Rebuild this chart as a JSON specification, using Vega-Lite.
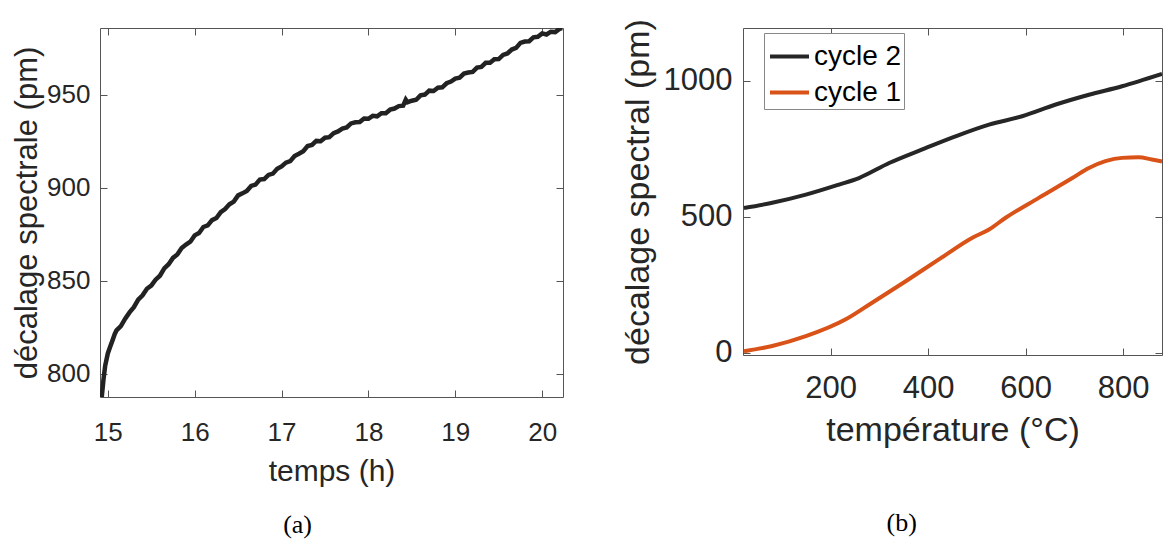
{
  "$schema": "https://vega.github.io/schema/vega-lite/v6.json",
  "padding": {"left": 11, "top": 18, "right": 0, "bottom": 0},
  "background": "white",
  "config": {
    "view": {"stroke": "#555555", "strokeWidth": 1},
    "font": "Liberation Sans",
    "axis": {"grid": false, "domain": false, "tickColor": "#555555", "labelColor": "#262626", "titleColor": "#262626", "labelFont": "Liberation Sans", "titleFont": "Liberation Sans", "titleFontWeight": "normal", "labelFlush": false, "tickSize": -7}
  },
  "spacing": 56,
  "resolve": {"legend": {"color": "independent"}},
  "datasets": {
    "temps": [
      {"t": 14.93, "v": 787.5}, {"t": 14.95, "v": 797}, {"t": 14.97, "v": 804.5}, {"t": 15.0, "v": 811}, {"t": 15.03, "v": 815}, {"t": 15.05, "v": 817.5}, {"t": 15.08, "v": 821.5},
      {"t": 15.1, "v": 823.4}, {"t": 15.15, "v": 825.7}, {"t": 15.2, "v": 829.7}, {"t": 15.25, "v": 833.1}, {"t": 15.3, "v": 835.9}, {"t": 15.35, "v": 840}, {"t": 15.4, "v": 842.3}, {"t": 15.45, "v": 845.8}, {"t": 15.5, "v": 847.5}, {"t": 15.55, "v": 850.7},
      {"t": 15.6, "v": 852.8}, {"t": 15.65, "v": 856.8}, {"t": 15.7, "v": 859}, {"t": 15.75, "v": 862.4}, {"t": 15.8, "v": 864.2}, {"t": 15.85, "v": 867.7}, {"t": 15.9, "v": 869.6}, {"t": 15.95, "v": 871.1}, {"t": 16.0, "v": 874.5},
      {"t": 16.05, "v": 875.8}, {"t": 16.1, "v": 879}, {"t": 16.15, "v": 879.9}, {"t": 16.2, "v": 882.7}, {"t": 16.25, "v": 883.8}, {"t": 16.3, "v": 887}, {"t": 16.35, "v": 888.7}, {"t": 16.4, "v": 891.2}, {"t": 16.45, "v": 892.7}, {"t": 16.5, "v": 896},
      {"t": 16.55, "v": 897.1}, {"t": 16.6, "v": 898.4}, {"t": 16.65, "v": 901.1}, {"t": 16.7, "v": 901.8}, {"t": 16.75, "v": 904.5}, {"t": 16.8, "v": 904.8}, {"t": 16.85, "v": 907}, {"t": 16.9, "v": 907.7}, {"t": 16.95, "v": 910.3}, {"t": 17.0, "v": 911.6},
      {"t": 17.05, "v": 913.6}, {"t": 17.1, "v": 914.4}, {"t": 17.15, "v": 917.2}, {"t": 17.2, "v": 918.4}, {"t": 17.25, "v": 919.7}, {"t": 17.3, "v": 922.5}, {"t": 17.35, "v": 923.1}, {"t": 17.4, "v": 925.3}, {"t": 17.45, "v": 925.1}, {"t": 17.5, "v": 927},
      {"t": 17.55, "v": 927.3}, {"t": 17.6, "v": 929.5}, {"t": 17.65, "v": 930.4}, {"t": 17.7, "v": 931.9}, {"t": 17.75, "v": 932.5}, {"t": 17.8, "v": 934.7}, {"t": 17.85, "v": 935.3}, {"t": 17.9, "v": 935.4}, {"t": 17.95, "v": 937.3}, {"t": 18.0, "v": 937.2},
      {"t": 18.05, "v": 938.8}, {"t": 18.1, "v": 938.5}, {"t": 18.15, "v": 940.2}, {"t": 18.2, "v": 940.2}, {"t": 18.25, "v": 942.1}, {"t": 18.3, "v": 942.7}, {"t": 18.35, "v": 944}, {"t": 18.4, "v": 944.2}, {"t": 18.43, "v": 947.5}, {"t": 18.45, "v": 946.1}, {"t": 18.5, "v": 946.9},
      {"t": 18.55, "v": 947.4}, {"t": 18.6, "v": 949.8}, {"t": 18.65, "v": 950.2}, {"t": 18.7, "v": 952.3}, {"t": 18.75, "v": 952.1}, {"t": 18.8, "v": 953.9}, {"t": 18.85, "v": 954.1}, {"t": 18.9, "v": 956.3}, {"t": 18.95, "v": 957.2}, {"t": 19.0, "v": 958.8},
      {"t": 19.05, "v": 959.3}, {"t": 19.1, "v": 961.5}, {"t": 19.15, "v": 962.1}, {"t": 19.2, "v": 962.4}, {"t": 19.25, "v": 964.7}, {"t": 19.3, "v": 965.1}, {"t": 19.35, "v": 967.3}, {"t": 19.4, "v": 967.3}, {"t": 19.45, "v": 969.2}, {"t": 19.5, "v": 969.3},
      {"t": 19.55, "v": 971.5}, {"t": 19.6, "v": 972.3}, {"t": 19.65, "v": 974.4}, {"t": 19.7, "v": 975.3}, {"t": 19.75, "v": 978}, {"t": 19.8, "v": 978.7}, {"t": 19.85, "v": 978.9}, {"t": 19.9, "v": 981}, {"t": 19.95, "v": 981.3}, {"t": 20.0, "v": 983.1},
      {"t": 20.05, "v": 982.5}, {"t": 20.1, "v": 984}, {"t": 20.15, "v": 983.8}, {"t": 20.2, "v": 985.5}, {"t": 20.23, "v": 985.9}
    ],
    "temp": [
      {"T": 22, "S": 532, "cycle": "cycle 2"}, {"T": 80, "S": 551, "cycle": "cycle 2"}, {"T": 149, "S": 581, "cycle": "cycle 2"}, {"T": 217, "S": 618, "cycle": "cycle 2"}, {"T": 258, "S": 642, "cycle": "cycle 2"}, {"T": 320, "S": 697, "cycle": "cycle 2"}, {"T": 388, "S": 747, "cycle": "cycle 2"}, {"T": 456, "S": 795, "cycle": "cycle 2"}, {"T": 525, "S": 838, "cycle": "cycle 2"}, {"T": 593, "S": 869, "cycle": "cycle 2"}, {"T": 662, "S": 912, "cycle": "cycle 2"}, {"T": 730, "S": 948, "cycle": "cycle 2"}, {"T": 798, "S": 979, "cycle": "cycle 2"}, {"T": 832, "S": 997, "cycle": "cycle 2"}, {"T": 880, "S": 1024, "cycle": "cycle 2"},
      {"T": 22, "S": 6, "cycle": "cycle 1"}, {"T": 80, "S": 25, "cycle": "cycle 1"}, {"T": 149, "S": 61, "cycle": "cycle 1"}, {"T": 231, "S": 123, "cycle": "cycle 1"}, {"T": 285, "S": 184, "cycle": "cycle 1"}, {"T": 354, "S": 263, "cycle": "cycle 1"}, {"T": 422, "S": 343, "cycle": "cycle 1"}, {"T": 490, "S": 422, "cycle": "cycle 1"}, {"T": 525, "S": 453, "cycle": "cycle 1"}, {"T": 559, "S": 496, "cycle": "cycle 1"}, {"T": 627, "S": 569, "cycle": "cycle 1"}, {"T": 696, "S": 642, "cycle": "cycle 1"}, {"T": 730, "S": 679, "cycle": "cycle 1"}, {"T": 764, "S": 704, "cycle": "cycle 1"}, {"T": 798, "S": 716, "cycle": "cycle 1"}, {"T": 832, "S": 718, "cycle": "cycle 1"}, {"T": 859, "S": 710, "cycle": "cycle 1"}, {"T": 880, "S": 703, "cycle": "cycle 1"}
    ]
  },
  "hconcat": [
    {
      "width": 463,
      "height": 369,
      "data": {"name": "temps"},
      "title": {"text": "(a)", "orient": "bottom", "anchor": "middle", "frame": "bounds", "dx": 10, "font": "Liberation Serif", "fontSize": 26, "fontWeight": "normal", "color": "#000000", "offset": 26},
      "layer": [
        {
          "mark": {"type": "line", "color": "#222222", "strokeWidth": 4.5, "clip": true},
          "encoding": {
            "x": {"field": "t", "type": "quantitative", "scale": {"domain": [14.91, 20.24], "nice": false, "zero": false},
              "axis": {"orient": "bottom", "values": [15, 16, 17, 18, 19, 20], "title": "temps (h)", "labelFontSize": 26, "titleFontSize": 30, "labelPadding": 29, "titlePadding": 11}},
            "y": {"field": "v", "type": "quantitative", "scale": {"domain": [787.6, 986], "nice": false, "zero": false},
              "axis": {"orient": "left", "values": [800, 850, 900, 950], "title": "décalage spectrale (pm)", "labelFontSize": 26, "titleFontSize": 31, "labelPadding": 17, "titlePadding": 3}}
          }
        },
        {
          "mark": {"type": "line", "opacity": 0, "clip": true},
          "encoding": {
            "x": {"field": "t", "type": "quantitative", "axis": {"orient": "top", "values": [15, 16, 17, 18, 19, 20], "labels": false, "title": null}},
            "y": {"field": "v", "type": "quantitative", "axis": {"orient": "right", "values": [800, 850, 900, 950], "labels": false, "title": null}}
          }
        }
      ],
      "resolve": {"axis": {"x": "independent", "y": "independent"}}
    },
    {
      "width": 419,
      "height": 327,
      "data": {"name": "temp"},
      "title": {"text": "(b)", "orient": "bottom", "anchor": "middle", "frame": "bounds", "dx": 10, "font": "Liberation Serif", "fontSize": 26, "fontWeight": "normal", "color": "#000000", "offset": 63},
      "layer": [
        {
          "mark": {"type": "line", "strokeWidth": 4, "clip": true, "interpolate": "monotone"},
          "encoding": {
            "x": {"field": "T", "type": "quantitative", "scale": {"domain": [20, 880], "nice": false, "zero": false},
              "axis": {"orient": "bottom", "values": [200, 400, 600, 800], "title": "température (°C)", "labelFontSize": 31, "titleFontSize": 34, "labelPadding": 25, "titlePadding": 10}},
            "y": {"field": "S", "type": "quantitative", "scale": {"domain": [-8, 1193], "nice": false, "zero": false},
              "axis": {"orient": "left", "values": [0, 500, 1000], "format": "d", "title": "décalage spectral (pm)", "labelFontSize": 31, "titleFontSize": 34, "labelPadding": 18, "titlePadding": 8}},
            "color": {"field": "cycle", "type": "nominal", "scale": {"domain": ["cycle 2", "cycle 1"], "range": ["#262626", "#D95319"]},
              "legend": {"title": null, "orient": "none", "legendX": 21, "legendY": 5, "fillColor": "white", "strokeColor": "#888888", "padding": 2, "symbolOffset": 2, "labelFont": "Liberation Sans", "labelFontSize": 28, "labelColor": "#000000", "symbolType": "stroke", "symbolStrokeWidth": 4, "symbolSize": 1521, "labelOffset": 3, "rowPadding": -4}}
          }
        },
        {
          "mark": {"type": "line", "opacity": 0, "clip": true},
          "encoding": {
            "x": {"field": "T", "type": "quantitative", "axis": {"orient": "top", "values": [200, 400, 600, 800], "labels": false, "title": null}},
            "y": {"field": "S", "type": "quantitative", "axis": {"orient": "right", "values": [0, 500, 1000], "labels": false, "title": null}},
            "detail": {"field": "cycle"}
          }
        }
      ],
      "resolve": {"axis": {"x": "independent", "y": "independent"}}
    }
  ]
}
